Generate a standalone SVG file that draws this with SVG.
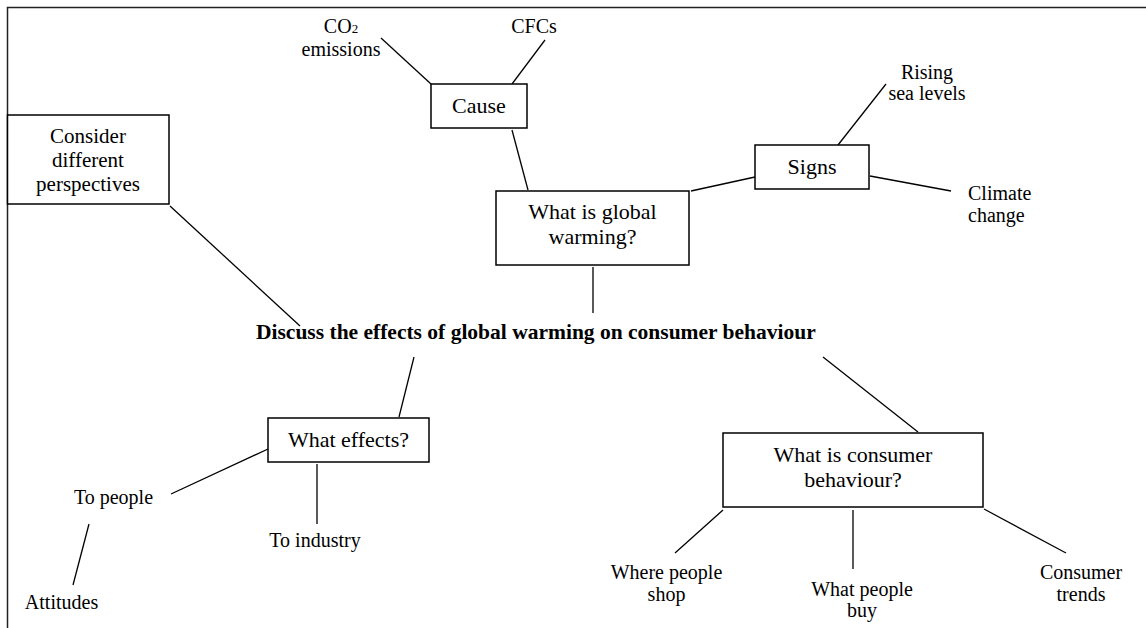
<svg xmlns="http://www.w3.org/2000/svg" width="1146" height="628" viewBox="0 0 1146 628">
<style>
  text { font-family: "Liberation Serif", "Times New Roman", serif; fill: #000; }
  .box { fill: #fff; stroke: #000; stroke-width: 1.5; }
  .lbl { font-size: 22px; text-anchor: middle; }
  .leaf { font-size: 20px; text-anchor: middle; }
  .main { font-size: 21.5px; font-weight: bold; }
  .conn line { stroke: #000; stroke-width: 1.3; }
  .frame { fill: none; stroke: #222; stroke-width: 1.5; }
</style>
<rect width="1146" height="628" fill="#fff"/>
<path class="frame" d="M7.5,640 V7.5 H1160"/>

<g id="connectors" class="conn">
  <line x1="381" y1="38" x2="431" y2="84"/>
  <line x1="545" y1="40" x2="512" y2="84"/>
  <line x1="512" y1="130" x2="528" y2="190"/>
  <line x1="691" y1="191" x2="755" y2="177"/>
  <line x1="838" y1="145" x2="886" y2="84"/>
  <line x1="870" y1="176" x2="951" y2="191"/>
  <line x1="593" y1="267" x2="593" y2="313"/>
  <line x1="170" y1="206" x2="300" y2="326"/>
  <line x1="414" y1="357" x2="399" y2="417"/>
  <line x1="268" y1="449" x2="171" y2="494"/>
  <line x1="317" y1="464" x2="317" y2="524"/>
  <line x1="89" y1="524" x2="73" y2="585"/>
  <line x1="823" y1="357" x2="918" y2="432"/>
  <line x1="723" y1="510" x2="675" y2="553"/>
  <line x1="853" y1="510" x2="853" y2="569"/>
  <line x1="984" y1="509" x2="1066" y2="553"/>
</g>

<g id="central">
  <text class="main" x="256" y="339">Discuss the effects of global warming on consumer behaviour</text>
</g>

<g id="consider">
  <rect class="box" x="7.5" y="115" width="161.5" height="89"/>
  <text class="lbl" style="font-size:21px" x="88" y="143">Consider</text>
  <text class="lbl" style="font-size:21px" x="88" y="167">different</text>
  <text class="lbl" style="font-size:21px" x="88" y="191">perspectives</text>
</g>

<g id="cause">
  <rect class="box" x="431" y="84" width="96" height="44"/>
  <text class="lbl" x="479" y="113">Cause</text>
</g>

<g id="co2">
  <text class="leaf" x="341" y="33">CO<tspan font-size="13">2</tspan></text>
  <text class="leaf" x="341" y="56">emissions</text>
</g>

<g id="cfcs">
  <text class="leaf" x="534" y="33">CFCs</text>
</g>

<g id="global">
  <rect class="box" x="496" y="191" width="193" height="74"/>
  <text class="lbl" x="592.5" y="219">What is global</text>
  <text class="lbl" x="592.5" y="244">warming?</text>
</g>

<g id="signs">
  <rect class="box" x="755" y="145" width="114" height="44"/>
  <text class="lbl" x="812" y="174">Signs</text>
</g>

<g id="rising">
  <text class="leaf" x="927" y="79">Rising</text>
  <text class="leaf" x="927" y="100">sea levels</text>
</g>

<g id="climate">
  <text class="leaf" style="text-anchor:start" x="968" y="200">Climate</text>
  <text class="leaf" style="text-anchor:start" x="968" y="222">change</text>
</g>

<g id="effects">
  <rect class="box" x="268" y="418" width="161" height="44"/>
  <text class="lbl" x="348.5" y="447">What effects?</text>
</g>

<g id="topeople">
  <text class="leaf" x="113.5" y="504">To people</text>
</g>

<g id="attitudes">
  <text class="leaf" x="61.5" y="609">Attitudes</text>
</g>

<g id="toindustry">
  <text class="leaf" x="315" y="547">To industry</text>
</g>

<g id="consumer">
  <rect class="box" x="723" y="433" width="260" height="74"/>
  <text class="lbl" x="853" y="462">What is consumer</text>
  <text class="lbl" x="853" y="487">behaviour?</text>
</g>

<g id="where">
  <text class="leaf" x="666.5" y="579">Where people</text>
  <text class="leaf" x="666.5" y="601">shop</text>
</g>

<g id="whatbuy">
  <text class="leaf" x="862" y="596">What people</text>
  <text class="leaf" x="862" y="617">buy</text>
</g>

<g id="trends">
  <text class="leaf" x="1081" y="579">Consumer</text>
  <text class="leaf" x="1081" y="601">trends</text>
</g>
</svg>
